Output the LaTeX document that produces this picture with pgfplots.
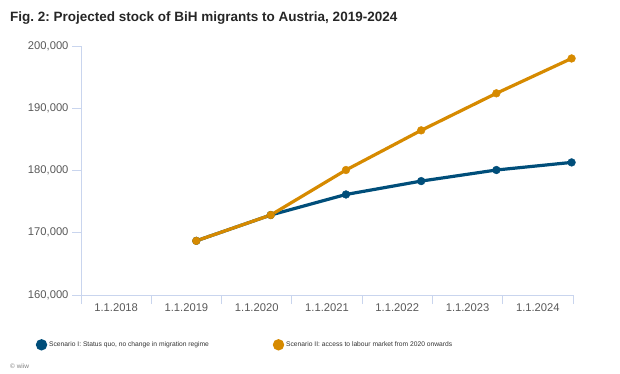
\documentclass[border=0pt]{standalone}
\usepackage{pgfplots}
\pgfplotsset{compat=1.18}
\usepackage{fontspec}
\setmainfont{Liberation Sans}
\definecolor{sblue}{HTML}{004E7A}
\definecolor{sorange}{HTML}{D68A00}
\definecolor{axcol}{HTML}{C9D5EE}
\definecolor{tickgray}{HTML}{595959}
\frenchspacing
\begin{document}
\begin{tikzpicture}[x=1pt,y=1pt]
\path[use as bounding box] (0,0) rectangle (620,-374);
\node[anchor=base west, inner sep=0pt, font=\fontsize{13.5}{16}\selectfont\bfseries, text=black!85] at (10,-22) {Fig. 2: Projected stock of BiH migrants to Austria, 2019-2024};
\node[anchor=base west, inner sep=0pt, font=\fontsize{6.5}{8}\selectfont, text=gray] at (10,-368) {\textcopyright{} wiiw};
\begin{axis}[
  at={(81pt,-295pt)}, anchor=south west,
  scale only axis, width=492pt, height=249pt,
  xmin=0, xmax=7, ymin=160000, ymax=200000,
  clip=false,
  axis x line=bottom, axis y line=left,
  axis line style={-, draw=axcol, line width=0.8pt},
  xtick={0,1,2,3,4,5,6,7}, xticklabels={},
  extra x ticks={0.5,1.5,2.5,3.5,4.5,5.5,6.5},
  extra x tick labels={1.1.2018,1.1.2019,1.1.2020,1.1.2021,1.1.2022,1.1.2023,1.1.2024},
  extra x tick style={major tick length=0pt, tick style={draw=none}},
  ytick={160000,170000,180000,190000,200000},
  major tick length=9pt,
  tick style={draw=axcol, line width=0.8pt},
  tick align=outside,
  x tick label style={yshift=-5pt},
  yticklabel style={/pgf/number format/.cd, 1000 sep={,}, fixed},
  /pgf/number format/assume math mode=true,
  scaled y ticks=false,
  ticklabel style={font=\fontsize{11.2}{13}\selectfont, text=tickgray},
  legend columns=2,
  legend style={at={(axis description cs:-0.092,-0.2)}, anchor=west, draw=none, fill=none, inner sep=0pt,
    font=\fontsize{6.7}{8}\selectfont, text=black!80,
    /tikz/every even column/.append style={column sep=62pt}},
  legend cell align=left,
  legend image code/.code={\path[#1, fill] (0pt,0pt) circle (4pt);},
]
\addplot[sblue, line width=3.2pt, mark=*, mark size=3.9pt, mark options={line width=0.4pt}] coordinates {
 (1.64,168700) (2.70,172850) (3.77,176150) (4.84,178300) (5.91,180080) (6.98,181300)};
\addlegendentry{Scenario I: Status quo, no change in migration regime}
\addplot[sorange, line width=3.2pt, mark=*, mark size=3.9pt, mark options={line width=0.4pt}] coordinates {
 (1.64,168700) (2.70,172850) (3.77,180080) (4.84,186450) (5.91,192400) (6.98,198000)};
\addlegendentry{Scenario II: access to labour market from 2020 onwards}
\end{axis}
\end{tikzpicture}
\end{document}
